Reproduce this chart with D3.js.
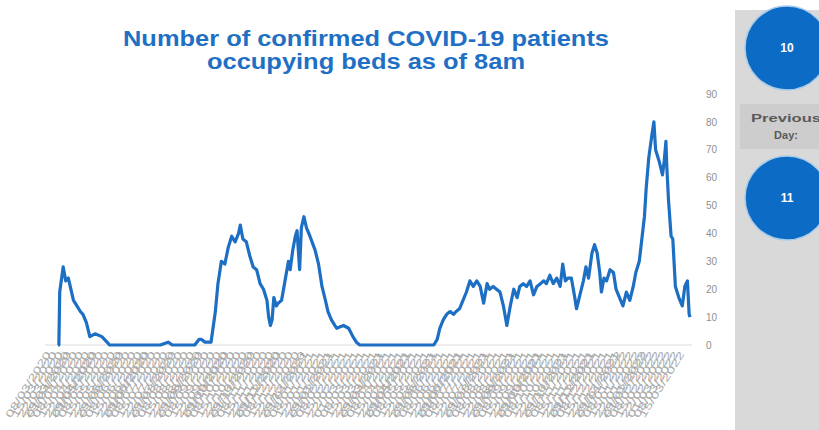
<!DOCTYPE html>
<html>
<head>
<meta charset="utf-8">
<script src="https://cdn.jsdelivr.net/npm/d3@7"></script>
<style>
  html, body { margin: 0; padding: 0; background: #ffffff; }
  svg { display: block; }
</style>
</head>
<body>
<svg id="chart" width="819" height="430"></svg>
<script>
// Daily bed occupancy, day offsets counted from the first reporting day
const startDay = "2020-03-16";
const days = [
  0, 1, 2, 6, 9, 12, 18, 22, 26, 29, 33, 37, 43, 51, 57, 60, 119, 128, 133, 159,
  164, 167, 171, 174, 178, 183, 186, 190, 194, 198, 202, 206, 210, 212, 215, 219, 223, 227, 231, 235,
  239, 243, 245, 247, 249, 251, 254, 256, 260, 264, 268, 270, 273, 276, 278, 281, 283, 286, 289, 293,
  299, 303, 307, 311, 314, 318, 324, 332, 338, 343, 347, 351, 437, 441, 444, 448, 452, 456, 460, 463,
  467, 471, 475, 479, 483, 487, 491, 495, 499, 502, 506, 510, 514, 518, 522, 526, 530, 534, 537, 541,
  545, 549, 553, 557, 561, 565, 568, 572, 576, 580, 584, 587, 590, 593, 597, 601, 603, 607, 611, 614,
  617, 621, 624, 627, 630, 632, 635, 638, 642, 646, 649, 653, 657, 661, 665, 669, 672, 676, 679, 682,
  684, 687, 691, 693, 695, 699, 703, 705, 707, 708, 710, 713, 715, 718, 722, 726, 729, 732, 734, 735
];
const patients = [
  0, 0, 19, 28, 23, 24, 16, 14, 12, 11, 8, 3, 4, 3, 1, 0, 0, 1, 0, 0,
  2, 2, 1, 1, 1, 12, 22, 30, 29, 35, 39, 37, 40, 43, 38, 37, 32, 28, 27, 22,
  20, 16, 10, 7, 9, 17, 14, 15, 16, 23, 30, 27, 34, 39, 41, 27, 42, 46, 42, 39,
  34, 29, 21, 16, 12, 9, 6, 7, 6, 3, 1, 0, 0, 2, 6, 9, 11, 12, 11, 12,
  13, 16, 19, 23, 21, 23, 21, 15, 22, 20, 21, 20, 19, 14, 7, 14, 20, 17, 21, 22,
  21, 23, 18, 21, 22, 23, 22, 25, 22, 24, 21, 29, 23, 24, 24, 17, 13, 18, 23, 28,
  24, 33, 36, 33, 26, 19, 24, 23, 27, 26, 20, 17, 14, 19, 16, 21, 26, 30, 38, 46,
  56, 67, 76, 80, 70, 66, 61, 66, 73, 64, 52, 39, 38, 21, 17, 14, 21, 23, 11, 10
];
const yTicks = [0, 10, 20, 30, 40, 50, 60, 70, 80, 90];
const titleLines = ["Number of confirmed COVID-19 patients", "occupying beds as of 8am"];
const todayCount = 10;
const previousCount = 11;
const previousLabel = ["Previous", "Day:"];

const parse = d3.timeParse("%Y-%m-%d");
const t0 = parse(startDay);
const series = days.map((d, i) => ({ date: d3.timeDay.offset(t0, d), value: patients[i] }));
const tEnd = d3.timeDay.offset(t0, d3.max(days));

// Weekly category labels along the date axis
const labelStart = d3.timeDay.offset(t0, -9);
const weekLabels = d3.timeDay.every(7).range(labelStart, d3.timeDay.offset(tEnd, 1));
const fmt = d3.timeFormat("%d/%m/%Y");

const svg = d3.select("#chart");
const blue = "#1c6fc3";

const x = d3.scaleTime().domain([t0, tEnd]).range([58, 690]);
const y = d3.scaleLinear().domain([0, 90]).range([345, 94]);

// Title
svg.append("g").selectAll("text").data(titleLines).join("text")
  .attr("x", 366).attr("y", (d, i) => i === 0 ? 46 : 69)
  .attr("text-anchor", "middle")
  .attr("textLength", (d, i) => i === 0 ? 486 : 318)
  .attr("lengthAdjust", "spacingAndGlyphs")
  .attr("font-family", "Liberation Sans, Arial, sans-serif")
  .attr("font-weight", "bold")
  .attr("font-size", 22)
  .attr("fill", "#1f70c4")
  .text(d => d);

// Baseline
svg.append("line")
  .attr("x1", 45).attr("x2", 692).attr("y1", y(0)).attr("y2", y(0))
  .attr("stroke", "#dcdcdc").attr("stroke-width", 1);

// Y axis on the right
const yAxis = svg.append("g")
  .attr("transform", "translate(700,0)")
  .call(d3.axisRight(y).tickValues(yTicks).tickSize(0).tickPadding(6));
yAxis.select(".domain").remove();
yAxis.selectAll("text")
  .attr("font-family", "Liberation Sans, Arial, sans-serif")
  .attr("font-size", 10)
  .attr("fill", "#8f8f8f");

// Rotated date labels
svg.append("g").selectAll("text").data(weekLabels).join("text")
  .attr("transform", d => `translate(${x(d)},354) rotate(-58)`)
  .attr("text-anchor", "end")
  .attr("textLength", 76)
  .attr("lengthAdjust", "spacingAndGlyphs")
  .attr("font-family", "Liberation Sans, Arial, sans-serif")
  .attr("font-size", 10)
  .attr("fill", "#a9a9a9")
  .text(d => fmt(d));

// Occupancy line
const line = d3.line().x(d => x(d.date)).y(d => y(d.value)).curve(d3.curveLinear);
svg.append("path")
  .datum(series)
  .attr("d", line)
  .attr("fill", "none")
  .attr("stroke", blue)
  .attr("stroke-width", 3.2)
  .attr("stroke-linejoin", "round");

// Side panel with current and previous counts
const panel = svg.append("g");
panel.append("rect").attr("x", 735).attr("y", 10).attr("width", 84).attr("height", 420).attr("fill", "#d9d9d9");
panel.append("rect").attr("x", 740).attr("y", 104).attr("width", 79).attr("height", 45).attr("fill", "#cdcdcd");

const bubbles = [{ cy: 48, v: todayCount }, { cy: 198, v: previousCount }];
panel.selectAll("circle").data(bubbles).join("circle")
  .attr("cx", 787).attr("cy", d => d.cy).attr("r", 42)
  .attr("fill", "#0c6bc4").attr("stroke", "#a9cbea").attr("stroke-width", 1.5);
panel.selectAll("text.num").data(bubbles).join("text")
  .attr("class", "num")
  .attr("x", 787).attr("y", d => d.cy + 4)
  .attr("text-anchor", "middle")
  .attr("font-family", "Liberation Sans, Arial, sans-serif")
  .attr("font-weight", "bold").attr("font-size", 12)
  .attr("fill", "#ffffff")
  .text(d => d.v);

panel.append("text")
  .attr("x", 751).attr("y", 122)
  .attr("textLength", 70).attr("lengthAdjust", "spacingAndGlyphs")
  .attr("font-family", "Liberation Sans, Arial, sans-serif")
  .attr("font-weight", "bold").attr("font-size", 11)
  .attr("fill", "#5a5a5a")
  .text(previousLabel[0]);
panel.append("text")
  .attr("x", 786).attr("y", 139)
  .attr("text-anchor", "middle")
  .attr("font-family", "Liberation Sans, Arial, sans-serif")
  .attr("font-weight", "bold").attr("font-size", 11)
  .attr("fill", "#5a5a5a")
  .text(previousLabel[1]);
</script>
</body>
</html>
